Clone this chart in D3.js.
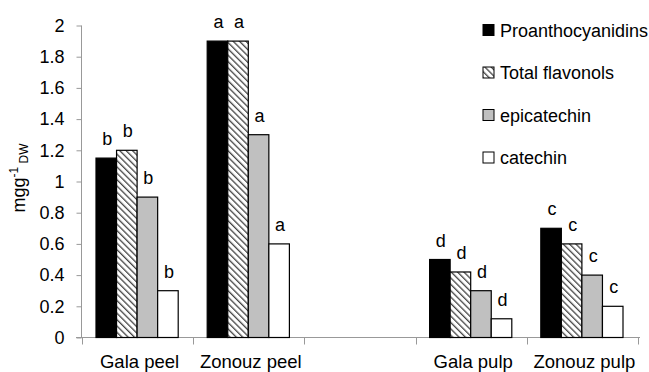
<!DOCTYPE html>
<html>
<head>
<meta charset="utf-8">
<script src="https://cdn.jsdelivr.net/npm/d3@7"></script>
<style>
  body { margin: 0; background: #fff; }
  text { font-family: Arial, "Liberation Sans", sans-serif; fill: #000; }
</style>
</head>
<body>
<div id="graph"></div>
<script>
// categories along x (third slot is an empty gap in the original)
var categories = ['Gala peel', 'Zonouz peel', '', 'Gala pulp', 'Zonouz pulp']
var series = ['Proanthocyanidins', 'Total flavonols', 'epicatechin', 'catechin']

// values per series, one per category (null = no bar)
var proantho  = [1.15, 1.9, null, 0.5, 0.7]
var flavonols = [1.2, 1.9, null, 0.42, 0.6]
var epicat    = [0.9, 1.3, null, 0.3, 0.4]
var catechin  = [0.3, 0.6, null, 0.12, 0.2]

// significance letters per category
var letters = ['b', 'a', '', 'd', 'c']

var yTicks = [0, 0.2, 0.4, 0.6, 0.8, 1, 1.2, 1.4, 1.6, 1.8, 2]

var width = 649, height = 372
var svg = d3.select('#graph').append('svg').attr('width', width).attr('height', height)

var defs = svg.append('defs')
var pat = defs.append('pattern')
  .attr('id', 'hatch').attr('patternUnits', 'userSpaceOnUse')
  .attr('width', 4.5).attr('height', 4.5)
  .attr('patternTransform', 'rotate(-45)')
pat.append('rect').attr('width', 4.5).attr('height', 4.5).attr('fill', '#fff')
pat.append('rect').attr('x', 0).attr('y', 0).attr('width', 1.3).attr('height', 4.5).attr('fill', '#444')

var fills = ['#000', 'url(#hatch)', '#c0c0c0', '#fff']
var allVals = [proantho, flavonols, epicat, catechin]

var x0 = d3.scaleBand().domain(categories.map((d, i) => i)).range([82, 638])
var x1 = d3.scaleBand().domain(series).range([14, x0.bandwidth() - 15])
var y = d3.scaleLinear().domain([0, 2]).range([337.5, 25.5])

// y axis
var yAxis = svg.append('g').attr('transform', 'translate(81.5,0)')
  .call(d3.axisLeft(y).tickValues(yTicks).tickSize(5).tickPadding(12)
    .tickFormat(d => d3.format('')(+d.toFixed(1))))
yAxis.select('.domain').attr('stroke', '#999').attr('d', 'M0,' + y(2) + 'V' + y(0))
yAxis.selectAll('.tick line').attr('stroke', '#999')
yAxis.selectAll('.tick text').style('font-size', '18px').attr('fill', '#000')

// x axis baseline + boundary ticks
var xg = svg.append('g')
xg.append('line').attr('x1', 76).attr('x2', 640).attr('y1', y(0)).attr('y2', y(0)).attr('stroke', '#999')
var bounds = categories.map((d, i) => x0(i)).concat([x0.range()[1]])
xg.selectAll('line.b').data(bounds).enter().append('line')
  .attr('x1', d => Math.round(d) + 0.5).attr('x2', d => Math.round(d) + 0.5)
  .attr('y1', y(0)).attr('y2', y(0) + 7).attr('stroke', '#999')
xg.selectAll('text').data(categories).enter().append('text')
  .attr('x', (d, i) => x0(i) + x0.bandwidth() / 2 + 2)
  .attr('y', 368)
  .attr('text-anchor', 'middle')
  .style('font-size', '18.5px')
  .text(d => d)

// bars
var bars = []
categories.forEach(function(c, i){
  series.forEach(function(s, j){
    var v = allVals[j][i]
    if (v == null) return
    bars.push({ci: i, s: s, j: j, v: v, letter: letters[i]})
  })
})

svg.selectAll('rect.bar').data(bars).enter().append('rect')
  .attr('class', 'bar')
  .attr('x', d => x0(d.ci) + x1(d.s))
  .attr('y', d => y(d.v))
  .attr('width', x1.bandwidth())
  .attr('height', d => y(0) - y(d.v))
  .attr('fill', d => fills[d.j])
  .attr('stroke', '#000').attr('stroke-width', 1.2)

svg.selectAll('text.lt').data(bars).enter().append('text')
  .attr('class', 'lt')
  .attr('x', d => x0(d.ci) + x1(d.s) + x1.bandwidth() / 2 + 1)
  .attr('y', d => y(d.v) - 13)
  .attr('text-anchor', 'middle')
  .style('font-size', '18px')
  .text(d => d.letter)

// y label
svg.append('text')
  .attr('transform', 'translate(25,178) rotate(-90)')
  .attr('text-anchor', 'middle')
  .style('font-size', '18px')
  .call(function(t){
    t.append('tspan').text('mgg')
    t.append('tspan').attr('dy', -7).style('font-size', '12px').text('-1')
    t.append('tspan').attr('dy', 10).style('font-size', '12px').text(' DW')
  })

// legend
var lg = svg.append('g').attr('transform', 'translate(483,0)')
var rows = lg.selectAll('g').data(series).enter().append('g')
  .attr('transform', (d, i) => 'translate(0,' + (30 + i * 42.5) + ')')
rows.append('rect').attr('x', 0).attr('y', -5.5).attr('width', 11).attr('height', 11)
  .attr('fill', (d, i) => fills[i]).attr('stroke', '#000')
rows.append('text').attr('x', 17).attr('y', 6.5).style('font-size', '18px').text(d => d)
</script>
</body>
</html>
